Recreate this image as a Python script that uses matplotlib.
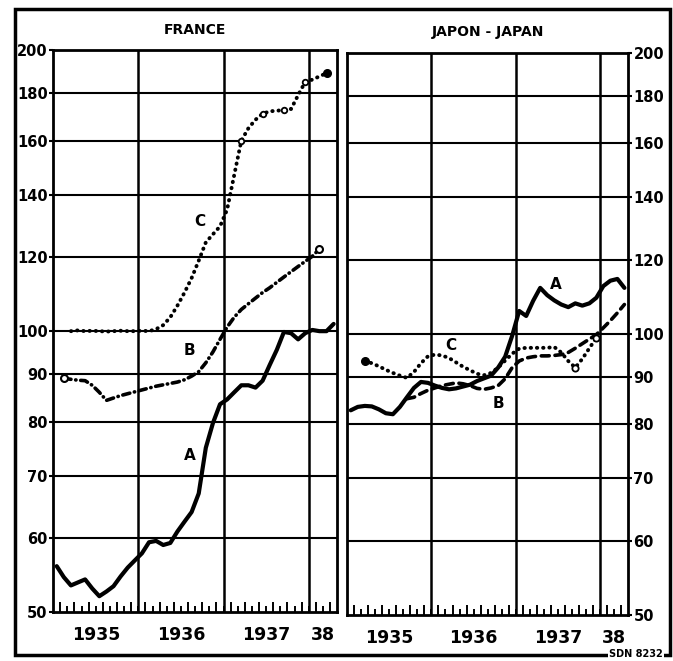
import matplotlib
matplotlib.use("Agg")
import matplotlib.pyplot as plt
from matplotlib.patches import Rectangle
from matplotlib.ticker import FixedLocator, NullLocator, NullFormatter

# monthly index numbers, month 0 = January 1935
france_a = [56.0, 54.5, 53.4, 53.8, 54.2, 53.0, 52.0, 52.6, 53.3, 54.6,
            55.8, 56.8, 57.8, 59.4, 59.6, 59.0, 59.3, 61.0, 62.5, 64.0,
            67.0, 75.0, 79.7, 83.5, 84.5, 86.0, 87.5, 87.5, 87.0, 88.5,
            92.0, 95.5, 99.8, 99.5, 98.0, 99.5, 100.3, 100.0, 100.0, 101.8]
france_b_start = 1
france_b = [89.0, 88.8, 88.6, 88.5, 87.5, 86.0, 84.3, 84.8, 85.3, 85.7,
            86.1, 86.5, 86.9, 87.3, 87.6, 87.9, 88.2, 88.7, 89.5, 90.5,
            92.5, 95.0, 98.0, 101.0, 103.5, 105.5, 107.0, 108.5, 110.0, 111.3,
            112.8, 114.3, 115.8, 117.3, 118.8, 120.3, 122.5]
france_c_start = 2
france_c = [100.0, 100.2, 100.0, 100.1, 100.0, 99.9, 100.0, 100.1, 100.0, 100.0,
            100.1, 100.0, 100.5, 101.5, 103.5, 106.5, 110.0, 114.0, 119.0, 124.5,
            127.0, 129.5, 135.0, 147.0, 160.0, 165.0, 168.5, 171.0, 172.0, 172.3,
            172.5, 173.0, 179.0, 185.0, 186.0, 187.5, 189.0]

japan_a = [82.8, 83.5, 83.7, 83.6, 83.0, 82.2, 82.0, 83.5, 85.5, 87.5,
           88.8, 88.6, 88.0, 87.5, 87.2, 87.4, 87.8, 88.2, 89.0, 89.6,
           90.2, 92.0, 94.5, 99.5, 105.8, 104.5, 108.5, 112.0, 110.0, 108.6,
           107.5, 106.8, 107.8, 107.2, 107.8, 109.3, 112.5, 114.0, 114.5, 112.0]
japan_b_start = 8
japan_b = [85.2, 85.5, 86.3, 87.0, 87.5, 88.0, 88.3, 88.6, 88.4, 88.0,
           87.4, 87.2, 87.5, 88.0, 89.5, 92.0, 93.5, 94.2, 94.5, 94.7,
           94.7, 94.8, 95.0, 95.5, 96.5, 97.6, 98.7, 99.8, 101.5, 103.3,
           105.3, 107.5]
japan_c_start = 2
japan_c = [93.5, 93.0, 92.3, 91.5, 90.8, 90.2, 89.7, 91.0, 93.0, 94.6,
           95.0, 94.8, 94.2, 93.2, 92.2, 91.4, 90.6, 90.3, 90.8, 92.0,
           93.6, 95.2, 96.4, 96.6, 96.6, 96.6, 96.6, 96.8, 95.5, 93.5,
           92.0, 94.0, 96.5, 99.0]

y_ticks = [50, 60, 70, 80, 90, 100, 120, 140, 160, 180, 200]
year_labels = ["1935", "1936", "1937", "38"]
year_pos = [6, 18, 30, 38]

# curve letters: (letter, month, value)
france_tags = [("C", 20.6, 131), ("B", 19.2, 95.4), ("A", 19.2, 73.6)]
japan_tags = [("A", 29.7, 113), ("C", 14.8, 97.1), ("B", 21.5, 84.3)]

font = "DejaVu Sans"


def months(start, values):
    return [start + i + 0.5 for i in range(len(values))]


def draw_panel(ax, title, a, b, b0, c, c0, tags, right, b_style):
    ax.set_yscale("log")
    ax.set_ylim(50, 200)
    ax.set_xlim(0, 40)

    for v in y_ticks[1:-1]:
        ax.axhline(v, color="black", lw=1.5, zorder=1)
    for m in (12, 24, 36):
        ax.axvline(m, color="black", lw=1.8, zorder=1)

    ax.plot(months(0, a), a, color="black", lw=3.0, solid_capstyle="round",
            solid_joinstyle="round", zorder=3)
    ax.plot(months(b0, b), b, color="black", lw=2.6,
            linestyle=b_style, dash_capstyle="round", zorder=3)
    ax.plot(months(c0, c), c, color="black", lw=2.8,
            linestyle=(0, (0.1, 1.5)), dash_capstyle="round", zorder=3)

    for letter, x, y in tags:
        ax.text(x, y, letter, ha="center", va="center", fontsize=11,
                fontweight="bold", family=font, zorder=4)

    ax.set_yticks(y_ticks)
    ax.set_yticklabels([str(v) for v in y_ticks], fontsize=10.5,
                       fontweight="bold", family=font)
    ax.yaxis.set_minor_locator(NullLocator())
    ax.yaxis.set_minor_formatter(NullFormatter())
    ax.tick_params(axis="y", length=3, width=1.5, pad=1)
    if right:
        ax.yaxis.tick_right()

    ax.xaxis.set_major_locator(FixedLocator(range(1, 40, 2)))
    ax.xaxis.set_minor_locator(FixedLocator(range(2, 40, 2)))
    ax.tick_params(axis="x", which="major", direction="in", length=7,
                   width=1.4, labelbottom=False)
    ax.tick_params(axis="x", which="minor", direction="in", length=4,
                   width=1.4)

    for lbl, x in zip(year_labels, year_pos):
        ax.text(x, -0.025, lbl, transform=ax.get_xaxis_transform(),
                ha="center", va="top", fontsize=12.5, fontweight="bold",
                family=font)

    for s in ax.spines.values():
        s.set_linewidth(2.0)

    ax.set_title(title, fontsize=10, fontweight="bold", family=font, pad=12)


fig = plt.figure(figsize=(6.73, 6.61), dpi=100)
ax_fr = fig.add_axes([0.079, 0.074, 0.422, 0.850])
ax_jp = fig.add_axes([0.516, 0.070, 0.417, 0.850])

draw_panel(ax_fr, "FRANCE", france_a, france_b, france_b_start,
           france_c, france_c_start, france_tags, right=False,
           b_style=(0, (2.0, 1.3, 0.1, 1.3)))
draw_panel(ax_jp, "JAPON - JAPAN", japan_a, japan_b, japan_b_start,
           japan_c, japan_c_start, japan_tags, right=True,
           b_style=(0, (2.2, 1.6)))

# open / filled circles on the curves
ax_fr.plot([france_b_start + 0.5, france_b_start + len(france_b) - 0.5],
           [france_b[0], france_b[-1]], "o", ms=5, mfc="white", mec="black",
           mew=1.5, zorder=5)
ax_fr.plot([france_c_start + len(france_c) - 0.5], [france_c[-1]], "o", ms=5.5,
           color="black", zorder=5)
ax_fr.plot([26.5, 29.5, 32.5, 35.5], [france_c[24], france_c[27], france_c[30],
                                      france_c[33]],
           "o", ms=4, mfc="white", mec="black", mew=1.3, zorder=5)
ax_jp.plot([japan_c_start + 0.5], [japan_c[0]], "o", ms=5.5, color="black",
           zorder=5)
ax_jp.plot([japan_c_start + len(japan_c) - 0.5, 32.5],
           [japan_c[-1], japan_c[30]], "o", ms=4.5, mfc="white", mec="black",
           mew=1.3, zorder=5)

fig.patches.append(Rectangle((15 / 673, 1 - 655 / 661), 655 / 673, 646 / 661,
                             transform=fig.transFigure, fill=False,
                             edgecolor="black", lw=2.5))
fig.text(0.985, 0.003, "SDN 8232", ha="right", va="bottom", fontsize=7,
         fontweight="bold", family=font,
         bbox=dict(facecolor="white", edgecolor="none", pad=1))

fig.savefig("out.png", dpi=100)
